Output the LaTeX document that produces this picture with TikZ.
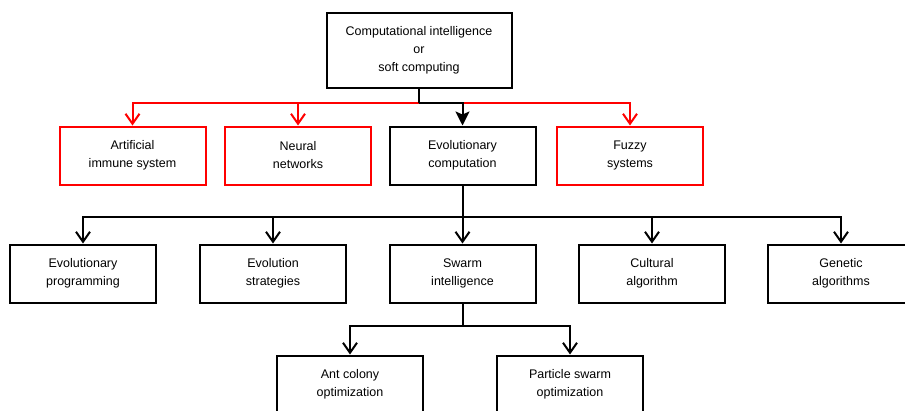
\documentclass[tikz,border=0pt]{standalone}
\usepackage{fontspec}
\setmainfont{Liberation Sans}
\usetikzlibrary{arrows.meta}
\begin{document}
\begin{tikzpicture}[x=1pt,y=-1pt,
  font=\fontsize{12.5}{18}\selectfont,
  box/.style={draw=black, line width=2pt, fill=white, minimum width=146pt,
    minimum height=58pt, align=center, inner sep=0pt},
  redbox/.style={box, draw=red},
  link/.style={line width=2pt, black},
  redlink/.style={line width=2pt, red},
  tip/.style={-{Straight Barb[length=10pt,width=14pt,line width=2pt]}},
  bigtip/.style={-{Stealth[length=14pt,width=14pt,inset=3pt]}}]
\useasboundingbox (0,0) rectangle (905,410);
\clip (0,0) rectangle (905,410);

% root
\node[box, minimum width=185pt, minimum height=75pt] (root) at (419,50)
  {Computational intelligence\\or\\soft computing};

% second level
\node[redbox] (ais) at (132.5,155.5) {Artificial\\immune system};
\node[redbox] (nn)  at (298,155.5) {Neural\\networks};
\node[box]    (ec)  at (462.5,155.5) {Evolutionary\\computation};
\node[redbox] (fs)  at (630,155.5) {Fuzzy\\systems};

% third level
\node[box] (ep) at (83,273.5)  {Evolutionary\\programming};
\node[box] (es) at (273,273.5) {Evolution\\strategies};
\node[box] (si) at (462.5,273.5) {Swarm\\intelligence};
\node[box] (ca) at (652,273.5) {Cultural\\algorithm};
\node[box] (ga) at (841,273.5) {Genetic\\algorithms};

% fourth level
\node[box] (aco) at (350,384.5) {Ant colony\\optimization};
\node[box] (pso) at (570,384.5) {Particle swarm\\optimization};

% junction points of the trees
\coordinate (j1) at (419,103);
\coordinate (j2) at (462.5,217);
\coordinate (j3) at (462.5,326);

% root to second level
\draw[redlink, tip] (j1) -| (ais.north);
\draw[redlink, tip] (j1) -| (nn.north);
\draw[redlink, tip] (j1) -| (fs.north);
\draw[link] (root.south) -- (j1);
\draw[link, bigtip] (j1) -| (ec.north);

% evolutionary computation to third level
\draw[link] (ec.south) -- (j2);
\draw[link, tip] (j2) -| (ep.north);
\draw[link, tip] (j2) -| (es.north);
\draw[link, tip] (j2) -- (si.north);
\draw[link, tip] (j2) -| (ca.north);
\draw[link, tip] (j2) -| (ga.north);

% swarm intelligence to fourth level
\draw[link] (si.south) -- (j3);
\draw[link, tip] (j3) -| (aco.north);
\draw[link, tip] (j3) -| (pso.north);
\end{tikzpicture}
\end{document}
